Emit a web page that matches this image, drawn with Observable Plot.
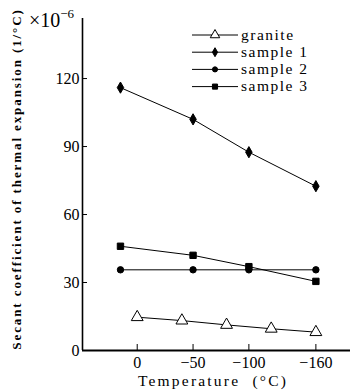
<!DOCTYPE html>
<html>
<head>
<meta charset="utf-8">
<script src="https://cdn.jsdelivr.net/npm/d3@7"></script>
<script src="https://cdn.jsdelivr.net/npm/@observablehq/plot@0.6"></script>
<style>
  html, body { margin: 0; padding: 0; background: #fff; }
  #wrap { position: relative; width: 354px; height: 391px; }
  #wrap svg { position: absolute; left: 0; top: 0; }
</style>
</head>
<body>
<div id="wrap"></div>
<script>
// ---- data ----
const sampleTemps = [15, -50, -100, -160];
const sample1 = [116, 102, 87.5, 72.5];
const sample2 = [35.6, 35.6, 35.6, 35.6];
const sample3 = [46, 42, 37, 30.5];
const graniteTemps = [0, -40, -80, -120, -160];
const granite = [14.7, 13.2, 11.3, 9.6, 8.1];
const xTicks = [0, -50, -100, -160];
const yTicks = [0, 30, 60, 90, 120];
const seriesNames = ["granite", "sample 1", "sample 2", "sample 3"];
const seriesSymbols = ["triangle", "diamond", "circle", "square"];
const seriesFill = ["white", "black", "black", "black"];
const seriesR = [4.4, 3.4, 3.2, 3.6];

const rows = [];
granite.forEach((v, i) => rows.push({series: "granite", t: graniteTemps[i], v}));
[sample1, sample2, sample3].forEach((arr, k) =>
  arr.forEach((v, i) => rows.push({series: seriesNames[k + 1], t: sampleTemps[i], v})));

const W = 354, H = 391;
const font = "'Liberation Serif', 'Times New Roman', serif";

const marks = [
  Plot.ruleX([49], {stroke: "black", strokeWidth: 1.6}),
  Plot.ruleY([0], {stroke: "black", strokeWidth: 2}),
  Plot.axisX({ticks: xTicks, tickSize: -6, tickPadding: 12, tickFormat: d => d < 0 ? "\u2212" + (-d) : String(d), fontSize: 16, label: null}),
  Plot.axisY({ticks: yTicks, tickSize: -5, tickPadding: 8, fontSize: 16, label: null})
];
seriesNames.forEach((name, k) => {
  const data = rows.filter(d => d.series === name);
  marks.push(Plot.line(data, {x: "t", y: "v", stroke: "black", strokeWidth: 1}));
  marks.push(Plot.dot(data, {x: "t", y: "v", symbol: () => seriesSymbols[k], r: seriesR[k],
    fill: seriesFill[k], stroke: "black", strokeWidth: 1}));
});

const chart = Plot.plot({
  width: W, height: H,
  marginLeft: 82, marginRight: 4, marginTop: 18, marginBottom: 41,
  style: {fontFamily: font, fontSize: "16px", color: "black", background: "white"},
  x: {domain: [49, -191]},
  y: {domain: [0, 146.5]},
  symbol: {type: "identity"},
  marks
});
const wrap = document.getElementById("wrap");
wrap.appendChild(chart);

// ---- overlay: titles and legend ----
const ov = d3.select(wrap).append("svg")
  .attr("width", W).attr("height", H)
  .style("font-family", font);

ov.append("text")
  .attr("transform", "translate(21,179) rotate(-90)")
  .attr("text-anchor", "middle")
  .attr("font-size", 13)
  .attr("font-weight", "bold")
  .attr("letter-spacing", 1.9)
  .text("Secant coefficient of thermal expansion (1/\u00B0C)");

const sci = ov.append("text").attr("x", 29).attr("y", 27).attr("font-size", 20);
sci.append("tspan").text("\u00D710");
sci.append("tspan").attr("dy", -9).attr("font-size", 13).text("\u22126");

ov.append("text")
  .attr("x", 213).attr("y", 386)
  .attr("text-anchor", "middle")
  .attr("font-size", 15.5)
  .attr("letter-spacing", 2.2)
  .style("white-space", "pre")
  .text("Temperature\u00A0\u00A0(\u00B0C)");

const sym = {
  triangle: d3.symbolTriangle, diamond: d3.symbolDiamond,
  circle: d3.symbolCircle, square: d3.symbolSquare
};
seriesNames.forEach((name, k) => {
  const y = 35 + k * 17.2;
  const g = ov.append("g");
  g.append("line").attr("x1", 192).attr("x2", 238).attr("y1", y).attr("y2", y)
    .attr("stroke", "black").attr("stroke-width", 1);
  const r = seriesR[k] * 0.8;
  g.append("path")
    .attr("transform", `translate(215,${y})`)
    .attr("d", d3.symbol(sym[seriesSymbols[k]], Math.PI * r * r)())
    .attr("fill", seriesFill[k]).attr("stroke", "black");
  g.append("text").attr("x", 241).attr("y", y + 4.5)
    .attr("font-size", 15.5).attr("letter-spacing", 1.5).text(name);
});
</script>
</body>
</html>
